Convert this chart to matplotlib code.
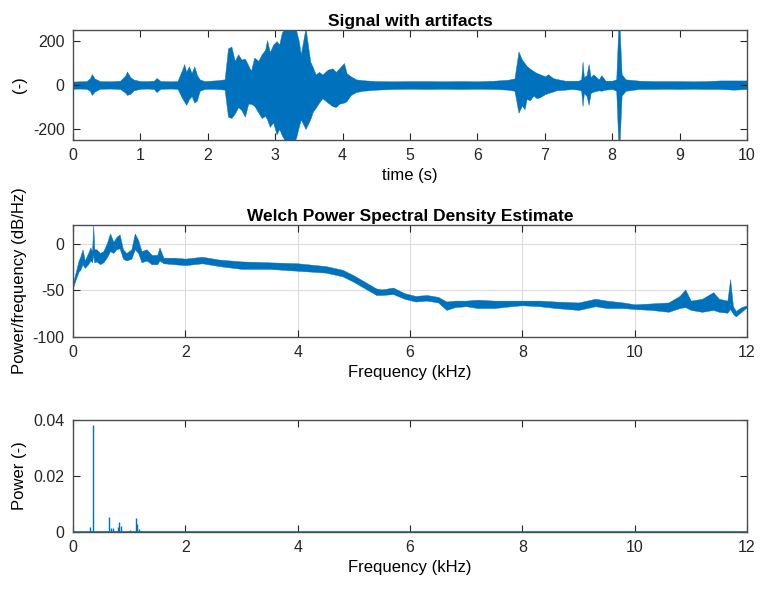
import numpy as np
import matplotlib
matplotlib.use('Agg')
import matplotlib.pyplot as plt

plt.rcParams['font.family'] = ['Liberation Sans', 'DejaVu Sans']
plt.rcParams['axes.unicode_minus'] = False

BLUE = '#0072BD'
AXC = '#4d4d4d'

# signal envelope: time (s), upper, lower
sig_t = [0.00, 0.10, 0.20, 0.25, 0.28, 0.32, 0.40, 0.55, 0.70, 0.78, 0.80, 0.85, 0.90,
         1.00, 1.10, 1.20, 1.24, 1.30, 1.45, 1.55, 1.62, 1.65, 1.68, 1.72, 1.76, 1.80,
         1.84, 1.88, 1.95, 2.05, 2.15, 2.25, 2.30, 2.35, 2.40, 2.45, 2.50, 2.55, 2.60,
         2.64, 2.69, 2.75, 2.80, 2.85, 2.88, 2.92, 2.97, 3.02, 3.06, 3.10, 3.16, 3.22,
         3.28, 3.31, 3.35, 3.38, 3.45, 3.52, 3.56, 3.60, 3.65, 3.70, 3.78, 3.85, 3.90,
         3.95, 4.02, 4.06, 4.12, 4.20, 4.30, 4.50, 4.75, 5.00, 5.25, 5.50, 5.75, 6.00,
         6.25, 6.45, 6.55, 6.61, 6.66, 6.70, 6.73, 6.78, 6.83, 6.88, 6.93, 7.00, 7.05,
         7.12, 7.17, 7.30, 7.40, 7.50, 7.54, 7.56, 7.58, 7.62, 7.65, 7.68, 7.72, 7.80,
         7.84, 7.90, 8.00, 8.06, 8.09, 8.11, 8.14, 8.20, 8.40, 8.60, 8.80, 9.00, 9.20,
         9.40, 9.60, 9.80, 10.00]
sig_hi = [16, 17, 18, 30, 50, 30, 18, 17, 20, 45, 62, 36, 25,
          18, 18, 20, 32, 18, 17, 18, 70, 95, 60, 85, 55, 85,
          45, 26, 18, 20, 22, 26, 167, 175, 110, 140, 116, 120, 90,
          64, 125, 110, 140, 160, 204, 150, 184, 200, 184, 240, 260, 260,
          255, 250, 200, 140, 260, 107, 80, 48, 60, 48, 70, 76, 60,
          76, 100, 54, 40, 26, 22, 18, 17, 18, 18, 17, 18, 17,
          20, 24, 30, 153, 116, 100, 87, 75, 64, 55, 49, 40, 49,
          32, 28, 20, 20, 20, 26, 107, 36, 45, 96, 36, 49, 26,
          45, 20, 20, 26, 260, 260, 49, 26, 20, 18, 18, 18, 17,
          18, 21, 21, 21]
sig_lo = [-17, -16, -17, -26, -45, -30, -17, -16, -18, -36, -45, -40, -24,
          -17, -16, -18, -32, -17, -16, -17, -60, -75, -90, -65, -50, -80,
          -70, -26, -18, -17, -18, -21, -144, -150, -130, -100, -114, -144, -85,
          -85, -95, -125, -150, -140, -156, -190, -170, -225, -200, -230, -260, -260,
          -260, -240, -190, -156, -200, -156, -120, -104, -80, -60, -80, -96, -100,
          -85, -80, -73, -46, -32, -26, -21, -18, -17, -18, -17, -18, -17,
          -18, -21, -26, -126, -93, -110, -63, -70, -48, -60, -55, -42, -36,
          -30, -24, -21, -18, -21, -26, -96, -36, -50, -90, -36, -30, -24,
          -26, -21, -18, -26, -260, -260, -48, -26, -18, -18, -17, -18, -17,
          -18, -18, -21, -18]

# Welch PSD band: frequency (kHz), upper, lower (dB/Hz)
psd_f = [0.00, 0.05, 0.10, 0.13, 0.17, 0.21, 0.27, 0.31, 0.34, 0.36, 0.38, 0.42, 0.48,
         0.54, 0.60, 0.66, 0.72, 0.77, 0.83, 0.89, 0.95, 1.04, 1.10, 1.16, 1.22, 1.31,
         1.40, 1.50, 1.54, 1.61, 1.8, 2.0, 2.3, 2.6, 3.0, 3.5, 4.0, 4.5, 4.8, 5.0,
         5.2, 5.4, 5.5, 5.7, 5.9, 6.1, 6.3, 6.5, 6.65, 6.8, 7.0, 7.2, 7.5, 7.8,
         8.0, 8.3, 8.6, 9.0, 9.3, 9.5, 9.8, 10.0, 10.3, 10.6, 10.8, 10.9, 11.0, 11.2,
         11.4, 11.5, 11.65, 11.7, 11.75, 11.8, 11.9, 12.0]
psd_hi = [-42, -30, -18, -14, -6, -18, -10, -4, -8, 20, -6, -6, -10,
          -8, 0, 11, 2, 7, 10, -6, -10, -6, 11, 4, -8, -6,
          -12, -12, -4, -15, -15, -16, -14, -17, -19, -20, -21, -24, -28, -34,
          -41, -48, -49, -47, -53, -56, -55, -57, -62, -61, -61, -60, -61, -61,
          -61, -61, -62, -63, -59, -61, -63, -65, -64, -63, -56, -49, -61, -59,
          -52, -59, -61, -38, -67, -72, -68, -66]
psd_lo = [-47, -38, -30, -28, -22, -26, -22, -18, -20, -12, -20, -19, -22,
          -20, -15, -8, -10, -6, -5, -16, -18, -16, -6, -10, -20, -18,
          -22, -22, -18, -21, -22, -23, -21, -24, -27, -27, -29, -31, -35, -41,
          -48, -55, -55, -54, -59, -62, -61, -63, -71, -68, -67, -69, -69, -67,
          -66, -67, -69, -71, -67, -69, -69, -70, -71, -73, -69, -68, -71, -73,
          -71, -73, -74, -70, -75, -78, -73, -68]

# power spectrum peaks: frequency (kHz), power (-)
pw_f = [0.31, 0.362, 0.647, 0.68, 0.718, 0.795, 0.825, 0.85, 1.01, 1.116, 1.14, 1.17]
pw_v = [0.0019, 0.0381, 0.0052, 0.0015, 0.0013, 0.0017, 0.0035, 0.002, 0.0007,
        0.0049, 0.0029, 0.001]


def style_axes(ax):
    for s in ax.spines.values():
        s.set_color(AXC)
        s.set_linewidth(1.0)
    ax.tick_params(direction='in', top=True, right=True, length=5, width=0.8,
                   colors='#262626', labelsize=11.5, pad=6)


fig = plt.figure(figsize=(7.61, 5.90), dpi=100)
ax1 = fig.add_axes([0.0959, 0.7627, 0.8857, 0.1863])
ax2 = fig.add_axes([0.0959, 0.4288, 0.8857, 0.1898])
ax3 = fig.add_axes([0.0959, 0.0983, 0.8857, 0.1898])

# signal
ax1.fill_between(sig_t, sig_lo, sig_hi, color=BLUE, lw=0.3)
ax1.set_xlim(0, 10)
ax1.set_ylim(-250, 250)
ax1.set_xticks(np.arange(0, 11, 1))
ax1.set_yticks([-200, 0, 200])
ax1.set_title('Signal with artifacts', fontsize=12.5, fontweight='bold', pad=3)
ax1.set_xlabel('time (s)', fontsize=12, labelpad=3)
ax1.set_ylabel('(-)', fontsize=12)
style_axes(ax1)

# Welch PSD
ax2.fill_between(psd_f, psd_lo, psd_hi, color=BLUE, lw=0.3)
ax2.set_xlim(0, 12)
ax2.set_ylim(-100, 20)
ax2.set_xticks(np.arange(0, 13, 2))
ax2.set_yticks([-100, -50, 0])
ax2.grid(True, color='#dcdcdc', lw=0.8)
ax2.set_axisbelow(True)
ax2.set_title('Welch Power Spectral Density Estimate', fontsize=12.5, fontweight='bold', pad=3)
ax2.set_xlabel('Frequency (kHz)', fontsize=12, labelpad=3)
ax2.set_ylabel('Power/frequency (dB/Hz)', fontsize=12)
style_axes(ax2)

# power spectrum
ax3.vlines(pw_f, 0, pw_v, color=BLUE, lw=1.0)
ax3.axhline(0, color=BLUE, lw=1.2)
ax3.set_xlim(0, 12)
ax3.set_ylim(0, 0.04)
ax3.set_xticks(np.arange(0, 13, 2))
ax3.set_yticks([0, 0.02, 0.04])
ax3.set_yticklabels(['0', '0.02', '0.04'])
ax3.set_xlabel('Frequency (kHz)', fontsize=12, labelpad=3)
ax3.set_ylabel('Power (-)', fontsize=12)
style_axes(ax3)

for ax in (ax1, ax2, ax3):
    ax.yaxis.set_label_coords(-0.068, 0.5)

fig.savefig('out.png', dpi=100)
